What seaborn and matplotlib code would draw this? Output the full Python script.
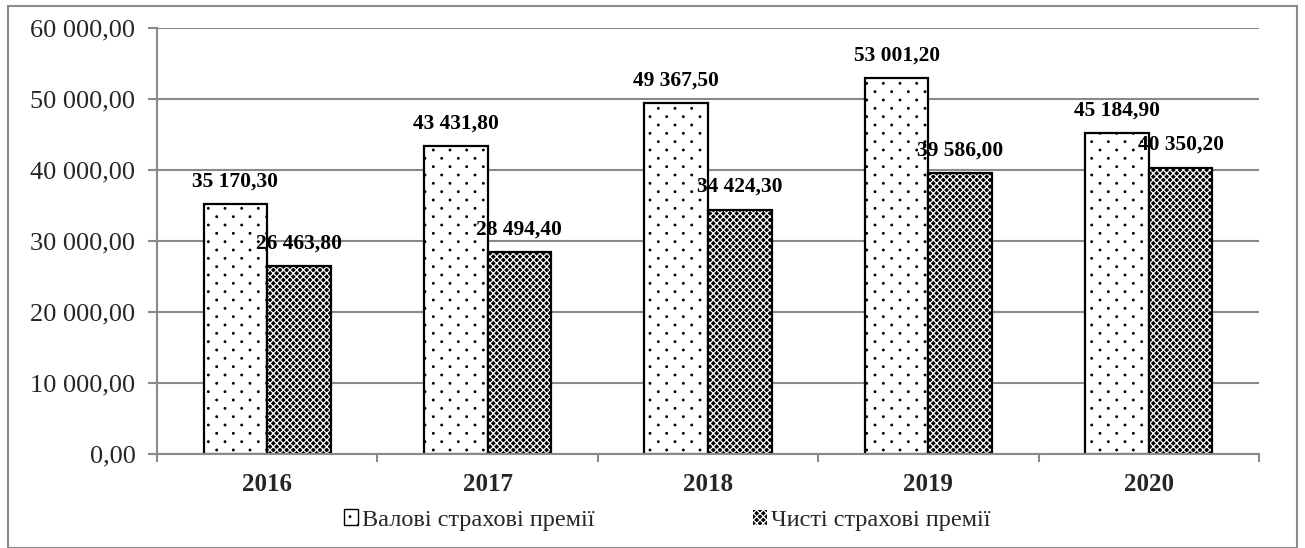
import matplotlib
matplotlib.use("Agg")
import matplotlib.pyplot as plt
import matplotlib.ticker as mticker
from matplotlib import hatch as mhatch
from matplotlib.path import Path
from matplotlib.patches import Patch, Rectangle
import seaborn as sns
import pandas as pd
import numpy as np

years = ["2016", "2017", "2018", "2019", "2020"]
gross = [35170.30, 43431.80, 49367.50, 53001.20, 45184.90]
net = [26463.80, 28494.40, 34424.30, 39586.00, 40350.20]
series_names = ["Валові страхові премії", "Чисті страхові премії"]

df = pd.DataFrame({
    "year": years * 2,
    "value": gross + net,
    "series": [series_names[0]] * len(years) + [series_names[1]] * len(years),
})


# sparse staggered dot texture (replaces matplotlib's '.' hatch)
class SparseDots(mhatch.HatchPatternBase):
    def __init__(self, hatch, density):
        n = hatch.count('.')
        circ = Path.unit_circle()
        self.sv = circ.vertices
        self.sc = circ.codes
        self.pts = []
        if n == 0:
            self.num_vertices = 0
            return
        nc, nr = 6 * n, 12 * n
        for r in range(nr + 1):
            y = r / nr
            if r % 2 == 0:
                xs = np.linspace(0, 1, nc + 1)
            else:
                xs = (np.arange(nc) + 0.5) / nc
            for x in xs:
                self.pts.append((x, y))
        self.num_vertices = len(self.pts) * len(self.sv)

    def set_vertices_and_codes(self, vertices, codes):
        r = 0.008
        vertices[:] = np.concatenate([self.sv * r + np.array(p) for p in self.pts])
        codes[:] = np.concatenate([self.sc] * len(self.pts))


mhatch._hatch_types = [SparseDots if t is mhatch.SmallFilledCircles else t
                       for t in mhatch._hatch_types]

sns.set_theme(style="white")
plt.rcParams["font.family"] = ["Liberation Serif", "DejaVu Serif"]
plt.rcParams["hatch.linewidth"] = 0.9

fig = plt.figure(figsize=(13.05, 5.48), dpi=100)
ax = fig.add_axes([157 / 1305, 1 - 454 / 548, (1259 - 157) / 1305, (454 - 28) / 548])

sns.barplot(data=df, x="year", y="value", hue="series", order=years,
            hue_order=series_names, palette=["white", "black"], width=0.577,
            saturation=1, ax=ax, legend=False, errorbar=None)


def fmt(v):
    s = f"{v:,.2f}"
    return s.replace(",", " ").replace(".", ",")


cont_gross, cont_net = ax.containers[0], ax.containers[1]
for p in cont_gross:
    p.set_facecolor("white")
    p.set_edgecolor("black")
    p.set_linewidth(1.6)
    p.set_hatch(".")
for p in cont_net:
    p.set_facecolor("black")
    p.set_edgecolor("white")
    p.set_linewidth(0)
    p.set_hatch("xxxxx")
    ax.add_patch(Rectangle((p.get_x(), p.get_y()), p.get_width(), p.get_height(),
                           fill=False, edgecolor="black", linewidth=1.6,
                           zorder=p.get_zorder() + 0.1))

for cont, vals in ((cont_gross, gross), (cont_net, net)):
    for p, v in zip(cont, vals):
        ax.annotate(fmt(v), (p.get_x() + p.get_width() / 2, p.get_height()),
                    xytext=(0, 9), textcoords="offset points", ha="center", va="bottom",
                    fontsize=15.5, fontweight="bold", color="black")

ax.set_ylim(0, 60000)
ax.set_xlim(-0.5, len(years) - 0.5)
ax.yaxis.set_major_locator(mticker.MultipleLocator(10000))
ax.yaxis.set_major_formatter(mticker.FuncFormatter(lambda v, _: fmt(v)))
ax.grid(axis="y", color="#8a8a8a", linewidth=1.5)
ax.set_axisbelow(True)
for s in ["top", "right"]:
    ax.spines[s].set_visible(False)
for s in ["left", "bottom"]:
    ax.spines[s].set_color("#8a8a8a")
    ax.spines[s].set_linewidth(1.5)
ax.tick_params(axis="y", which="major", direction="out", length=6.5, color="#8a8a8a",
               width=1.5, labelsize=19, pad=9, left=True)
ax.tick_params(axis="x", which="major", length=0, labelsize=18, pad=14)
ax.set_xticks(np.arange(-0.5, len(years)), minor=True)
ax.tick_params(axis="x", which="minor", direction="out", length=6, color="#8a8a8a",
               width=1.5, bottom=True)
for t in ax.get_xticklabels():
    t.set_fontweight("bold")
ax.set_xlabel("")
ax.set_ylabel("")

handles = [
    Patch(facecolor="white", edgecolor="black", hatch=".", linewidth=1.0),
    Patch(facecolor="black", edgecolor="white", hatch="xxxxx", linewidth=0.8),
]
fig.legend(handles, series_names, loc="center", bbox_to_anchor=(667 / 1305, 1 - 520 / 548),
           ncol=2, frameon=False, fontsize=17.5, handlelength=0.6, handleheight=0.6,
           handletextpad=0.15, columnspacing=6.5)

fig.add_artist(Rectangle((8 / 1305, 0), (1297 - 8) / 1305, 1 - 6 / 548,
                         transform=fig.transFigure, fill=False,
                         edgecolor="#8a8a8a", linewidth=1.5))

fig.savefig("out.png", dpi=100)
